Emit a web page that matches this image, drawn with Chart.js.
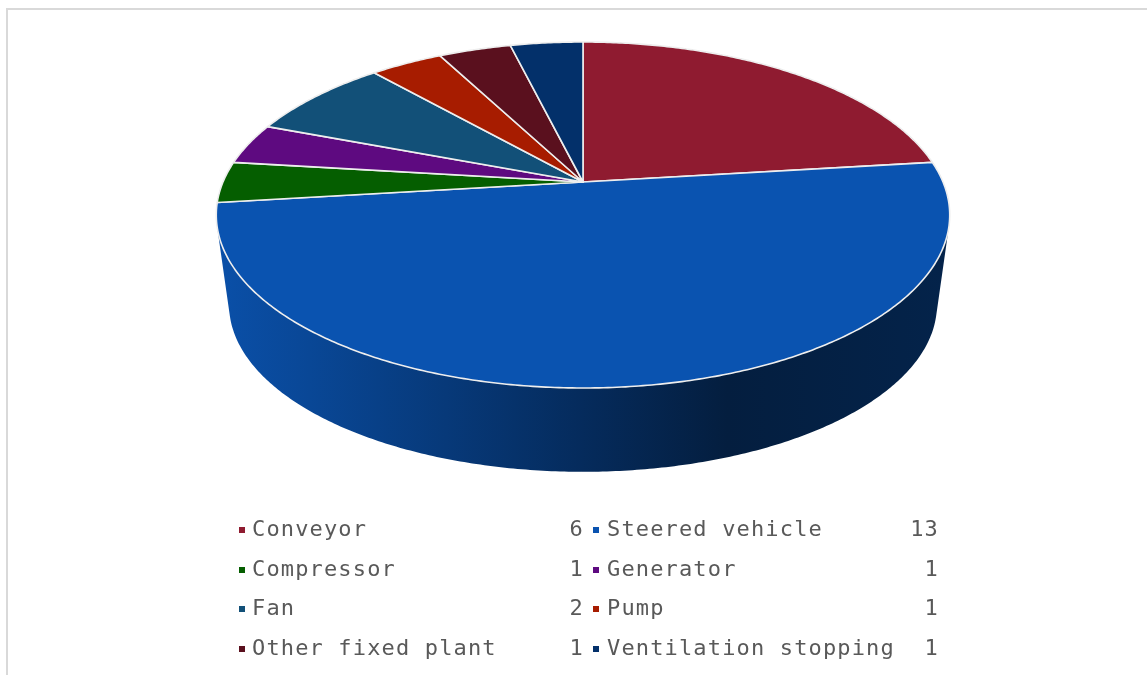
<!DOCTYPE html>
<html>
<head>
<meta charset="utf-8">
<script src="https://cdn.jsdelivr.net/npm/chart.js@4"></script>
<style>
  html, body { margin: 0; padding: 0; background: #fff; overflow: hidden; }
  #wrap { position: relative; width: 1147px; height: 675px; }
  #frame { position: absolute; left: 6px; top: 8px; right: -4px; bottom: -4px; border: 2px solid #d9d9d9; }
  canvas { position: absolute; left: 0; top: 0; }
  .cell { position: absolute; font: 22px "DejaVu Sans Mono", monospace; letter-spacing: 1.15px; color: #595959; line-height: 24px; white-space: pre; }
  .key { position: absolute; width: 6px; height: 6px; }
</style>
</head>
<body>
<div id="wrap">
  <div id="frame"></div>
  <canvas id="pie" width="1147" height="675"></canvas>
  <div id="legend"></div>
</div>
<script>
const categories = ['Conveyor', 'Steered vehicle', 'Compressor', 'Generator', 'Fan', 'Pump', 'Other fixed plant', 'Ventilation stopping'];
const counts = [6, 13, 1, 1, 2, 1, 1, 1];
const colors = ['#8f1b30', '#0a53b0', '#055e00', '#5e0a80', '#125078', '#a71c00', '#5a101e', '#03306a'];

// tilted disc: k is the perspective strength, the others are relative to the arc radius
const k = 0.1907;
const topDisc = { sx: 1.978, sy: 0.916, dy: 0 };
const baseDisc = { sx: 1.909, sy: 0.884, dy: 0.5 };
// brightness of the side wall going left to right
const sideShade = [[0, 0.95], [0.12, 0.85], [0.5, 0.52], [0.7, 0.36], [1, 0.42]];

function project(arc, disc, angle) {
  const u = Math.cos(angle), v = Math.sin(angle), w = 1 - k * v, r = arc.outerRadius;
  return [arc.x + disc.sx * r * u / w, arc.y + disc.dy * r + disc.sy * r * v / w];
}

function shade(hex, f) {
  const n = parseInt(hex.slice(1), 16);
  return `rgb(${(n >> 16) * f}, ${((n >> 8) & 255) * f}, ${(n & 255) * f})`;
}

function anglesOf(arc) {
  const steps = Math.max(2, Math.ceil((arc.endAngle - arc.startAngle) / 0.01));
  const list = [];
  for (let i = 0; i <= steps; i++) list.push(arc.startAngle + (arc.endAngle - arc.startAngle) * i / steps);
  return list;
}

function drawSide(ctx, arc, color) {
  const r = arc.outerRadius;
  const grad = ctx.createLinearGradient(arc.x - topDisc.sx * r, 0, arc.x + topDisc.sx * r, 0);
  sideShade.forEach(s => grad.addColorStop(s[0], shade(color, s[1])));
  ctx.fillStyle = grad;
  ctx.beginPath();
  const angles = anglesOf(arc);
  for (let i = 0; i < angles.length - 1; i++) {
    let quad = [project(arc, topDisc, angles[i]), project(arc, topDisc, angles[i + 1]),
      project(arc, baseDisc, angles[i + 1]), project(arc, baseDisc, angles[i])];
    // same winding everywhere so that overlapping quads do not cancel out
    let area = 0;
    quad.forEach((p, j) => { const q = quad[(j + 1) % 4]; area += p[0] * q[1] - q[0] * p[1]; });
    if (area < 0) quad = quad.reverse();
    quad.forEach((p, j) => j ? ctx.lineTo(p[0], p[1]) : ctx.moveTo(p[0], p[1]));
    ctx.closePath();
  }
  ctx.fill();
}

function drawTop(ctx, arc, color) {
  ctx.beginPath();
  ctx.moveTo(arc.x, arc.y);
  anglesOf(arc).forEach(a => { const p = project(arc, topDisc, a); ctx.lineTo(p[0], p[1]); });
  ctx.closePath();
  ctx.fillStyle = color;
  ctx.fill();
  ctx.strokeStyle = '#eeeeee';
  ctx.lineWidth = 1.6;
  ctx.lineJoin = 'round';
  ctx.stroke();
}

const tiltedPie = {
  id: 'tiltedPie',
  beforeDatasetsDraw(chart) {
    const ctx = chart.ctx;
    const arcs = chart.getDatasetMeta(0).data;
    // walls go back to front, so the nearest slice ends up on top
    const depth = arc => Math.sin((arc.startAngle + arc.endAngle) / 2);
    arcs.map((arc, i) => i)
      .sort((a, b) => depth(arcs[a]) - depth(arcs[b]))
      .forEach(i => drawSide(ctx, arcs[i], colors[i]));
    arcs.forEach((arc, i) => drawTop(ctx, arc, colors[i]));
    return false;
  }
};

new Chart(document.getElementById('pie'), {
  type: 'pie',
  data: { labels: categories, datasets: [{ data: counts, backgroundColor: colors, borderWidth: 0 }] },
  options: {
    responsive: false,
    animation: false,
    layout: { padding: { left: 19, bottom: 311 } },
    plugins: { legend: { display: false }, tooltip: { enabled: false } }
  },
  plugins: [tiltedPie]
});

// two column legend with the count on the right of each name
const legendDiv = document.getElementById('legend');
const rowY = [529, 569, 608, 648];
const columns = [{ key: 239, text: 252, right: 584 }, { key: 593, text: 607, right: 939 }];
categories.forEach((name, i) => {
  const col = columns[i % 2], y = rowY[Math.floor(i / 2)];
  const key = document.createElement('div');
  key.className = 'key';
  key.style.cssText = `left:${col.key}px;top:${y - 2}px;background:${colors[i]}`;
  const label = document.createElement('div');
  label.className = 'cell';
  label.style.cssText = `left:${col.text}px;top:${y - 12}px`;
  label.textContent = name;
  const value = document.createElement('div');
  value.className = 'cell';
  value.style.cssText = `right:${1147 - col.right}px;top:${y - 12}px`;
  value.textContent = counts[i];
  legendDiv.append(key, label, value);
});
</script>
</body>
</html>
